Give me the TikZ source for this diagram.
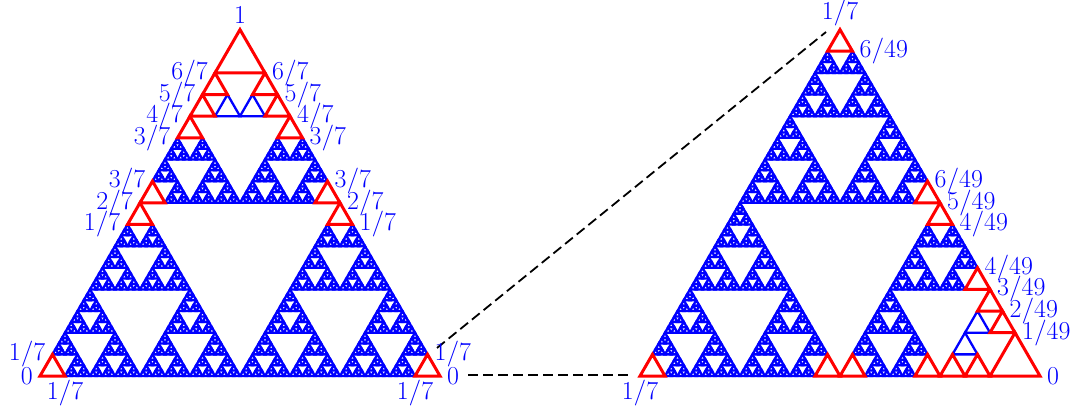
\documentclass[tikz,border=0pt]{standalone}
\tikzset{
  bluecell/.style={draw=blue, line width=2.3pt},
  redcell/.style={draw=red, line width=3pt},
  lab/.style={text=blue, font=\fontsize{24.88}{30}\selectfont, inner sep=7pt},
  zoomline/.style={draw=black, line width=1.8pt, dash pattern=on 10pt off 5pt},
}
\newcommand\lbl[1]{\scalebox{1.04}{$#1$}}
\def\kindred{r}
\def\kindblue{b}
\newif\ifredpass
\def\setcell#1#2{\expandafter\def\csname cell@#1\endcsname{#2}}
\def\tri#1#2#3#4{\draw[#1] (#2,#3) -- ({#2+#4},#3) -- ({#2+#4/2},{#3-#4*0.8660254}) -- cycle;}
\def\sierp#1#2#3#4#5{%
  \ifcsname cell@#1\endcsname
    \edef\cellkind{\csname cell@#1\endcsname}%
    \ifredpass
      \ifx\cellkind\kindred\tri{redcell}{#2}{#3}{#4}\fi
    \else
      \ifx\cellkind\kindblue\tri{bluecell}{#2}{#3}{#4}\fi
    \fi
  \else
    \ifnum#5=0
      \ifredpass\else\tri{bluecell}{#2}{#3}{#4}\fi
    \else
      \begingroup
        \pgfmathsetmacro\sh{#4/2}%
        \pgfmathsetmacro\sxa{#2+#4/2}%
        \pgfmathsetmacro\sxb{#2+#4/4}%
        \pgfmathsetmacro\syb{#3-#4*0.4330127}%
        \edef\snext{%
          \noexpand\sierp{#10}{#2}{#3}{\sh}{\the\numexpr#5-1\relax}%
          \noexpand\sierp{#11}{\sxa}{#3}{\sh}{\the\numexpr#5-1\relax}%
          \noexpand\sierp{#12}{\sxb}{\syb}{\sh}{\the\numexpr#5-1\relax}%
        }%
      \expandafter\endgroup\snext
    \fi
  \fi}
% left triangle cells
\setcell{L222}{r}\setcell{L2202}{r}\setcell{L2200}{r}\setcell{L2201}{b}
\setcell{L2212}{r}\setcell{L2211}{r}\setcell{L2210}{b}
\setcell{L2022}{r}\setcell{L2122}{r}
\setcell{L2000}{r}\setcell{L0222}{r}\setcell{L2111}{r}\setcell{L1222}{r}
\setcell{L0000}{r}\setcell{L1111}{r}
% right triangle cells
\setcell{R2222}{r}\setcell{R0000}{r}\setcell{R2111}{r}\setcell{R1222}{r}
\setcell{R0111}{r}\setcell{R1000}{r}\setcell{R1011}{r}\setcell{R1100}{r}
\setcell{R1101}{r}\setcell{R111}{r}\setcell{R1211}{r}\setcell{R1122}{r}
\setcell{R1121}{r}\setcell{R1120}{b}\setcell{R1102}{b}
\begin{document}
\begin{tikzpicture}[x=1pt,y=-1pt]
\useasboundingbox (0,0) rectangle (1081,410);
\redpassfalse
\sierp{L}{40}{376}{400}{6}
\sierp{R}{640}{376}{400}{6}
\redpasstrue
\sierp{L}{40}{376}{400}{6}
\sierp{R}{640}{376}{400}{6}
% dashed zoom lines
\coordinate (zs1) at (437,348);
\coordinate (ze1) at (826,32);
\coordinate (zs2) at (468,375);
\coordinate (ze2) at (628,375);
\draw[zoomline] (zs1) -- (ze1);
\draw[zoomline] (zs2) -- (ze2);
% left triangle labels
\node[lab, anchor=south, inner sep=0pt] (la1) at (240,23.5) {\lbl{1}};
\node[lab, left] (la2) at (215,72.89) {\lbl{6/7}};
\node[lab, left] (la3) at (202.5,94.54) {\lbl{5/7}};
\node[lab, left] (la4) at (190,116.19) {\lbl{4/7}};
\node[lab, left] (la5) at (177.5,137.84) {\lbl{3/7}};
\node[lab, right] (la6) at (265,72.89) {\lbl{6/7}};
\node[lab, right] (la7) at (277.5,94.54) {\lbl{5/7}};
\node[lab, right] (la8) at (290,116.19) {\lbl{4/7}};
\node[lab, right] (la9) at (302.5,137.84) {\lbl{3/7}};
\node[lab, left] (lb1) at (152.5,181.15) {\lbl{3/7}};
\node[lab, left] (lb2) at (140,202.8) {\lbl{2/7}};
\node[lab, left] (lb3) at (127.5,224.45) {\lbl{1/7}};
\node[lab, right] (lb4) at (327.5,181.15) {\lbl{3/7}};
\node[lab, right] (lb5) at (340,202.8) {\lbl{2/7}};
\node[lab, right] (lb6) at (352.5,224.45) {\lbl{1/7}};
\node[lab, left] (lc1) at (40,376) {\lbl{0}};
\node[lab, left] (lc2) at (52.5,354.35) {\lbl{1/7}};
\node[lab, anchor=north, inner sep=0pt] (lc3) at (65,380) {\lbl{1/7}};
\node[lab, right] (lc4) at (440,376) {\lbl{0}};
\node[lab, right] (lc5) at (427.5,354.35) {\lbl{1/7}};
\node[lab, anchor=north, inner sep=0pt] (lc6) at (415,380) {\lbl{1/7}};
% right triangle labels
\node[lab, anchor=south, inner sep=0pt] (ra1) at (840,26) {\lbl{1/7}};
\node[lab, right] (ra2) at (852.5,51.24) {\lbl{6/49}};
\node[lab, right] (ra3) at (927.5,181.15) {\lbl{6/49}};
\node[lab, right] (ra4) at (940,202.8) {\lbl{5/49}};
\node[lab, right] (ra5) at (952.5,224.45) {\lbl{4/49}};
\node[lab, right] (ra6) at (977.5,267.75) {\lbl{4/49}};
\node[lab, right] (ra7) at (990,289.4) {\lbl{3/49}};
\node[lab, right] (ra8) at (1002.5,311.05) {\lbl{2/49}};
\node[lab, right] (ra9) at (1015,332.7) {\lbl{1/49}};
\node[lab, right] (ra10) at (1040,376) {\lbl{0}};
\node[lab, anchor=north, inner sep=0pt] (ra11) at (640,380) {\lbl{1/7}};
\end{tikzpicture}
\end{document}
